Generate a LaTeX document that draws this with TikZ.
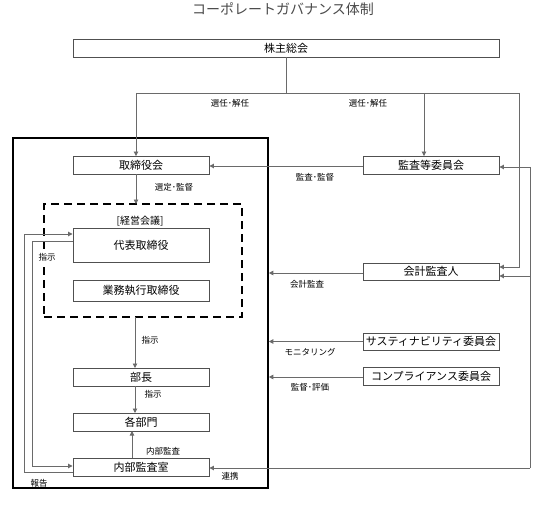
\documentclass[tikz,border=0pt]{standalone}
\usepackage{fontspec}
\setmainfont{Noto Sans CJK JP}
\usetikzlibrary{arrows.meta}
\definecolor{boxline}{HTML}{505050}
\definecolor{conn}{HTML}{6A6A6A}
\definecolor{titlegray}{HTML}{4A4A4A}
\tikzset{
  orgbox/.style={draw=boxline, line width=0.9pt, fill=white, minimum width=136pt, minimum height=18pt, inner sep=0pt, font=\fontsize{11}{11}\selectfont},
  lbl/.style={font=\fontsize{8.5}{8.5}\selectfont, inner sep=0pt},
  conline/.style={draw=conn, line width=0.9pt},
  arr/.style={conline, -{Triangle[length=4.5pt,width=4.5pt]}},
}
\begin{document}
\begin{tikzpicture}[x=1pt,y=-1pt]
\useasboundingbox (0,0) rectangle (556,505);
% title
\node[font=\fontsize{14}{14}\selectfont, text=titlegray, inner sep=0pt] (title) at (283,9) {コーポレートガバナンス体制};
% outer frame
\node[draw=black, line width=1.6pt, minimum width=255pt, minimum height=350pt, inner sep=0pt] (outer) at (140.5,313) {};
% dashed frame
\node[draw=black, line width=2pt, dash pattern=on 8pt off 5pt, minimum width=198pt, minimum height=113pt, inner sep=0pt] (keiei) at (143,260.5) {};
\node[font=\fontsize{10}{10}\selectfont, inner sep=0pt] (keieilbl) at (140,221) {[経営会議]};
% boxes
\node[orgbox, minimum width=426pt] (kabu) at (286,48) {株主総会};
\node[orgbox] (tori) at (141,165.5) {取締役会};
\node[orgbox] (kansa) at (431,165.5) {監査等委員会};
\node[orgbox, minimum height=34pt] (daihyo) at (141,245) {代表取締役};
\node[orgbox, minimum height=21pt] (gyomu) at (141,290.5) {業務執行取締役};
\node[orgbox] (bucho) at (141,377) {部長};
\node[orgbox] (kakubu) at (141,422) {各部門};
\node[orgbox] (naibu) at (141,467) {内部監査室};
\node[orgbox, minimum height=17pt] (kaikei) at (431,271.5) {会計監査人};
\node[orgbox, minimum height=17pt] (sus) at (431,341.5) {サスティナビリティ委員会};
\node[orgbox] (comp) at (431,376) {コンプライアンス委員会};
% junction coordinates
\coordinate (jtop) at (286,93);
\coordinate (jl) at (136,93);
\coordinate (jm) at (424,93);
\coordinate (jr) at (519,93);
\coordinate (rr) at (530,167);
% shareholders distribution
\draw[conline] (kabu.south) -- (jtop);
\draw[conline] (jl) -- (jr);
\draw[arr] (jl) -- (jl |- tori.north);
\draw[arr] (jm) -- (jm |- kansa.north);
\draw[arr] (jr) -- (519,267) -- (kaikei.east |- 0,267);
% audit committee to board
\draw[arr] (kansa.west |- 0,166) -- (tori.east |- 0,166);
% right loop
\draw[arr] (rr) -- (kansa.east |- rr);
\draw[conline] (rr) -- (530,468);
\draw[arr] (530,468) -- (naibu.east |- 0,468);
\draw[arr] (530,276) -- (kaikei.east |- 0,276);
% board to management
\draw[arr] (136,174) -- (136,204);
\draw[arr] (135,317) -- (135,368);
\draw[arr] (bucho.south) ++(-6,0) -- (135,413);
\draw[arr] (132,458) -- (132,431);
% left loops
\draw[arr] (daihyo.west |- 0,241) -- (32,241) -- (32,466) -- (naibu.west |- 0,466);
\draw[arr] (naibu.west |- 0,472) -- (24,472) -- (24,234) -- (daihyo.west |- 0,234);
% right committees to frame
\draw[arr] (kaikei.west |- 0,273) -- (outer.east |- 0,273);
\draw[arr] (sus.west) -- (outer.east |- sus.west);
\draw[arr] (comp.west |- 0,377) -- (outer.east |- 0,377);
% labels
\node[lbl] (l1) at (230,103) {選任･解任};
\node[lbl] (l2) at (368,103) {選任･解任};
\node[lbl] (l3) at (315,177) {監査･監督};
\node[lbl] (l4) at (174,187) {選定･監督};
\node[lbl, fill=white, inner sep=1pt] (l5) at (47,257) {指示};
\node[lbl] (l6) at (150,340) {指示};
\node[lbl] (l7) at (153,394) {指示};
\node[lbl] (l8) at (163,451) {内部監査};
\node[lbl] (l9) at (230,476) {連携};
\node[lbl] (l10) at (39,483) {報告};
\node[lbl] (l11) at (307,284) {会計監査};
\node[lbl] (l12) at (310,352) {モニタリング};
\node[lbl] (l13) at (310,387) {監督･評価};
\end{tikzpicture}
\end{document}
